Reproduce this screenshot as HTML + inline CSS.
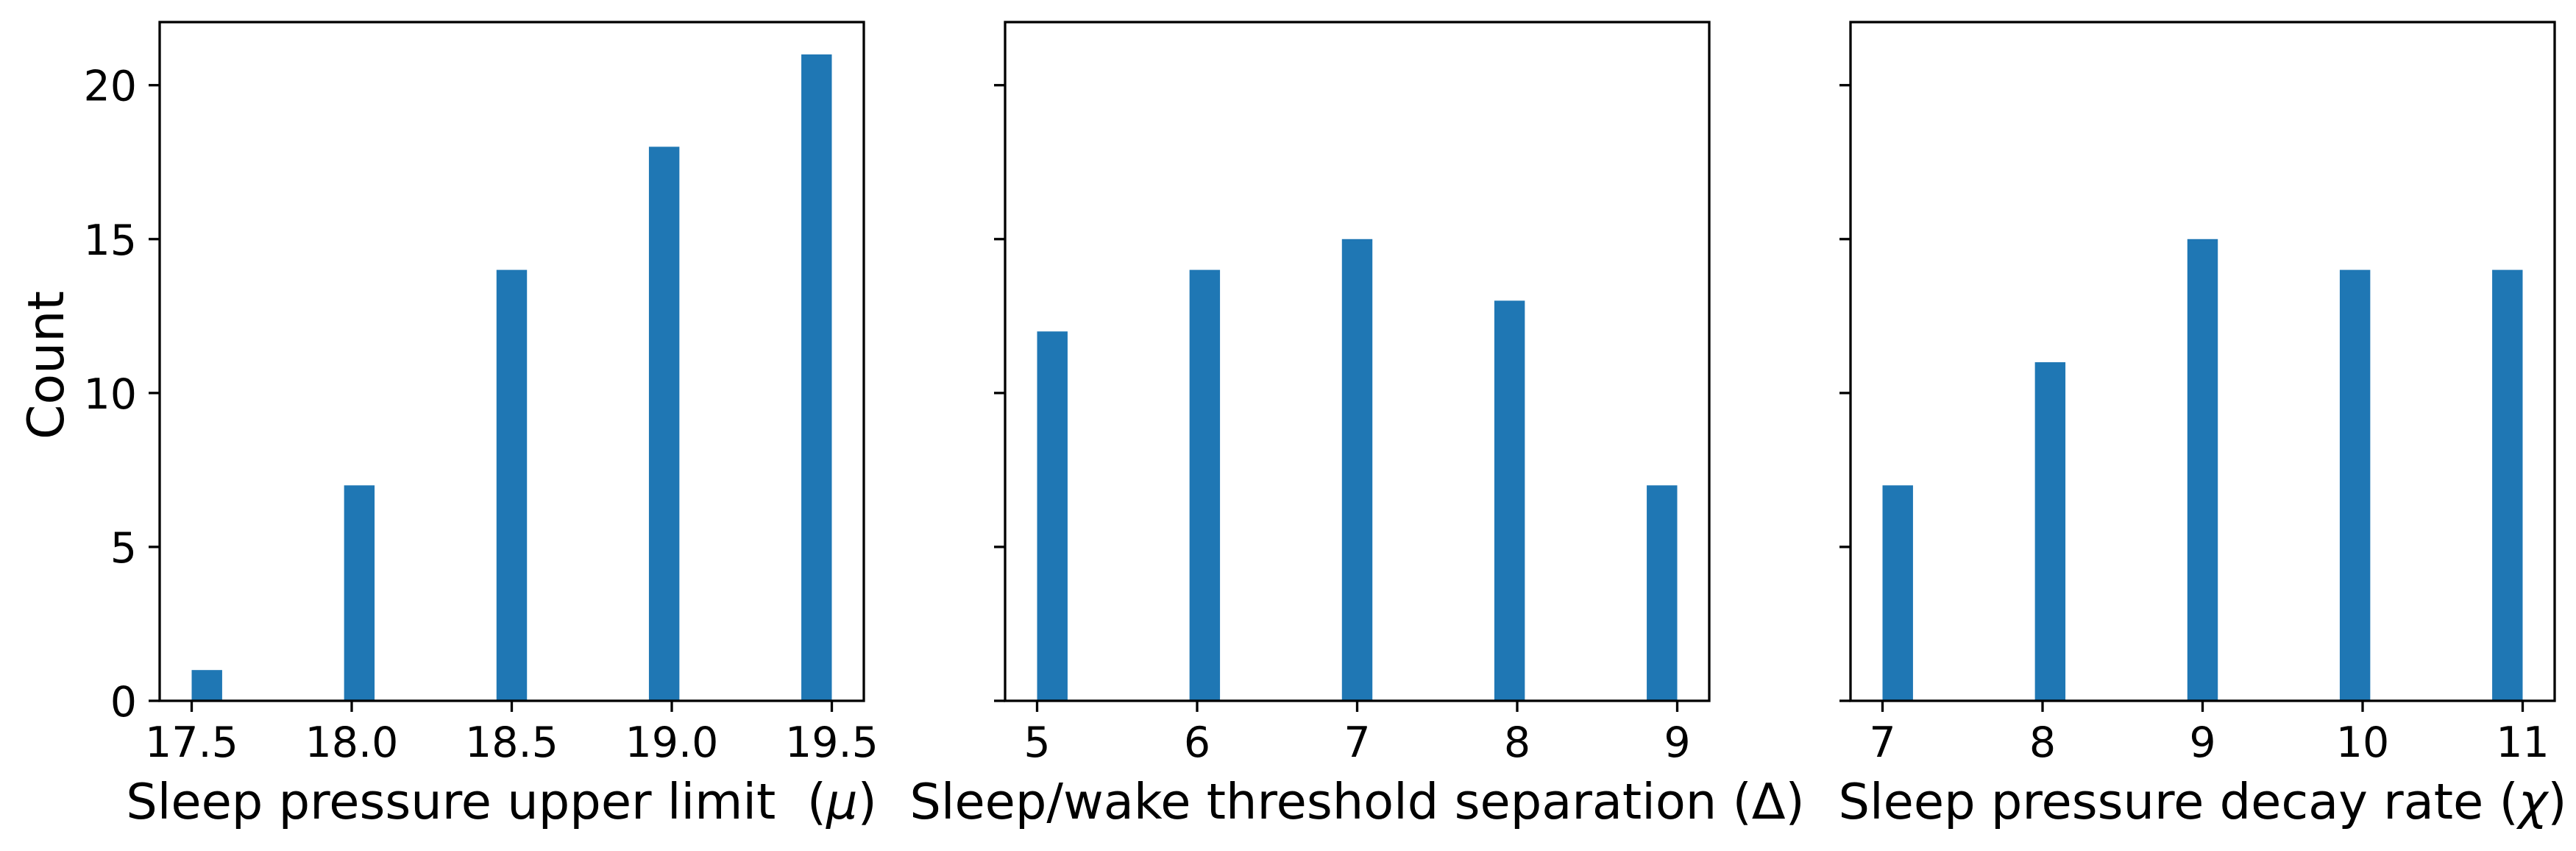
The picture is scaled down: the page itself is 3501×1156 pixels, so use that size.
<!DOCTYPE html>
<html><head><meta charset="utf-8"><style>
html,body{margin:0;padding:0;background:#fff;}
svg{display:block;font-family:"DejaVu Sans","Liberation Sans",sans-serif;}
</style></head><body>
<svg id="chart" width="3501" height="1156" viewBox="0 0 3501 1156" xmlns="http://www.w3.org/2000/svg">
<text transform="translate(86,496) rotate(-90)" text-anchor="middle" font-size="68">Count</text>
</svg>
<script>
// Panel data
const p1Values = [17.5, 18.0, 18.5, 19.0, 19.5];
const p1Counts = [1, 7, 14, 18, 21];
const p1Ticks = ["17.5", "18.0", "18.5", "19.0", "19.5"];
const p1TickVals = [17.5, 18.0, 18.5, 19.0, 19.5];
const p2Values = [5, 6, 7, 8, 9];
const p2Counts = [12, 14, 15, 13, 7];
const p2Ticks = ["5", "6", "7", "8", "9"];
const p2TickVals = [5, 6, 7, 8, 9];
const p3Values = [7, 8, 9, 10, 11];
const p3Counts = [7, 11, 15, 14, 14];
const p3Ticks = ["7", "8", "9", "10", "11"];
const p3TickVals = [7, 8, 9, 10, 11];
const yTickVals = [0, 5, 10, 15, 20];
const xLabels = ["Sleep pressure upper limit&#160; (<tspan font-style='italic'>μ</tspan>)",
  "Sleep/wake threshold separation (Δ)",
  "Sleep pressure decay rate (<tspan font-style='italic'>χ</tspan>)"];
const NBINS = 21;

const svg = document.getElementById('chart');
const NS = 'http://www.w3.org/2000/svg';
const TOP = 30, BOT = 952, YMAX = 22.05;
const y = v => BOT - (v / YMAX) * (BOT - TOP);

function mk(tag, attrs, parent) {
  const e = document.createElementNS(NS, tag);
  for (const k in attrs) e.setAttribute(k, attrs[k]);
  (parent || svg).appendChild(e);
  return e;
}

const panels = [
  {L:217, R:1174, vals:p1Values, counts:p1Counts, ticks:p1Ticks, tv:p1TickVals},
  {L:1366, R:2323, vals:p2Values, counts:p2Counts, ticks:p2Ticks, tv:p2TickVals},
  {L:2515, R:3472, vals:p3Values, counts:p3Counts, ticks:p3Ticks, tv:p3TickVals}
];

panels.forEach((p, pi) => {
  const g = mk('g', {});
  
  
  const mn = Math.min(...p.vals), mx = Math.max(...p.vals);
  const pad = 0.05 * (mx - mn);
  const x0 = mn - pad, x1 = mx + pad;
  const x = v => p.L + (v - x0) / (x1 - x0) * (p.R - p.L);
  const w = (mx - mn) / NBINS;
  p.vals.forEach((v, i) => {
    let b = Math.floor((v - mn) / w + 1e-9);
    if (b > NBINS - 1) b = NBINS - 1;
    const e0 = mn + b * w, e1 = e0 + w;
    const r = mk('rect', {x: x(e0), y: y(p.counts[i]), width: x(e1) - x(e0), height: y(0) - y(p.counts[i]), fill: '#1f77b4'}, g);
    
    
  });
  const fr = mk('rect', {x: p.L, y: TOP, width: p.R - p.L, height: BOT - TOP, fill: 'none', stroke: '#000', 'stroke-width': 3.3}, g);
  
  
  p.tv.forEach((v, i) => {
    mk('line', {x1: x(v), x2: x(v), y1: BOT, y2: BOT + 15, stroke: '#000', 'stroke-width': 3.3}, g);
    const t = mk('text', {x: x(v), y: 1028, 'text-anchor': 'middle', 'font-size': 57}, g);
    
    
    t.textContent = p.ticks[i];
  });
  yTickVals.forEach(v => {
    mk('line', {x1: p.L - 15, x2: p.L, y1: y(v), y2: y(v), stroke: '#000', 'stroke-width': 3.3}, g);
    if (pi === 0) {
      const t = mk('text', {x: 186, y: y(v) + 21, 'text-anchor': 'end', 'font-size': 57}, g);
      
      
      t.textContent = String(v);
    }
  });
  const xl = mk('text', {x: (p.L + p.R) / 2 - (pi === 0 ? 14 : 0), y: 1112, 'text-anchor': 'middle', 'font-size': 67}, g);
  
  
  xl.innerHTML = xLabels[pi];
});
</script>
</body></html>
